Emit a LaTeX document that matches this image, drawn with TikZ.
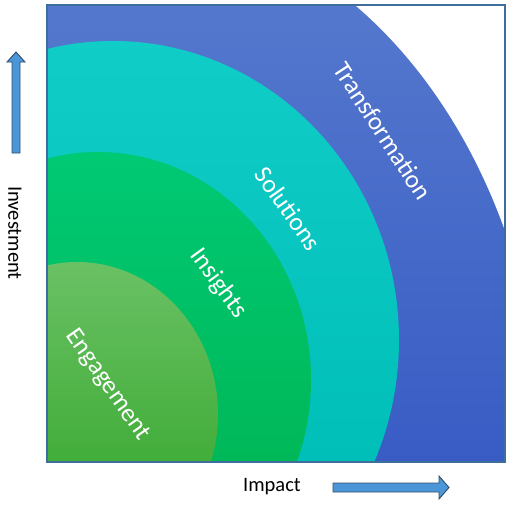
\documentclass[tikz,border=0pt]{standalone}
\usepackage{fontspec}
\setmainfont{Carlito}
\definecolor{transTop}{RGB}{84,120,205}
\definecolor{transBot}{RGB}{56,92,196}
\definecolor{solTop}{RGB}{18,206,201}
\definecolor{solBot}{RGB}{0,190,184}
\definecolor{insTop}{RGB}{0,201,116}
\definecolor{insBot}{RGB}{0,184,88}
\definecolor{engTop}{RGB}{106,193,100}
\definecolor{engBot}{RGB}{66,173,58}
\definecolor{frameCol}{RGB}{62,110,156}
\definecolor{arrowFill}{RGB}{74,150,216}
\definecolor{arrowLine}{RGB}{52,78,105}
\tikzset{
  lbl/.style={text=white, font=\fontsize{25.5}{30}\selectfont, inner sep=0pt},
  axislbl/.style={text=black, font=\fontsize{20.5}{24}\selectfont, inner sep=0pt},
  bigarrow/.style={fill=arrowFill, draw=arrowLine, line width=0.9pt, line join=miter},
}
\begin{document}
\begin{tikzpicture}[x=1pt,y=-1pt]
\useasboundingbox (0,0) rectangle (514,504);
% frame area
\coordinate (fTL) at (47,5);
\coordinate (fBR) at (505,462);
\begin{scope}
  \clip (fTL) rectangle (fBR);
  \fill[white] (fTL) rectangle (fBR);
  \begin{scope}
    \clip (130,462) ellipse [x radius=414, y radius=544];
    \shade[top color=transTop, bottom color=transBot] (fTL) rectangle (fBR);
  \end{scope}
  \begin{scope}
    \clip (113,340) ellipse [x radius=286, y radius=299];
    \shade[top color=solTop, bottom color=solBot] (fTL) rectangle (fBR);
  \end{scope}
  \begin{scope}
    \clip (98,380) ellipse [x radius=213, y radius=228];
    \shade[top color=insTop, bottom color=insBot] (47,152) rectangle (fBR);
  \end{scope}
  \begin{scope}
    \clip (77,414) ellipse [x radius=141, y radius=152];
    \shade[top color=engTop, bottom color=engBot] (47,262) rectangle (fBR);
  \end{scope}
\end{scope}
\draw[frameCol, line width=2.8pt] (fTL) rectangle (fBR);
% labels
\node[lbl, rotate=-57] (trans) at (383,131) {Transformation};
\node[lbl, rotate=-55] (sol) at (288.5,208.5) {Solutions};
\node[lbl, rotate=-54] (ins) at (218.5,283.5) {Insights};
\node[lbl, rotate=-55] (eng) at (107.5,385) {Engagement};
% axes
\node[axislbl, rotate=-90] (inv) at (15,233) {Investment};
\node[axislbl] (imp) at (272,487) {Impact};
% arrows
\draw[bigarrow] (333,483) -- (439,483) -- (439,476) -- (449,487.5) -- (439,499) -- (439,492) -- (333,492) -- cycle;
\draw[bigarrow] (12,153) -- (12,62) -- (7,62) -- (16,52) -- (25,62) -- (20,62) -- (20,153) -- cycle;
\end{tikzpicture}
\end{document}
